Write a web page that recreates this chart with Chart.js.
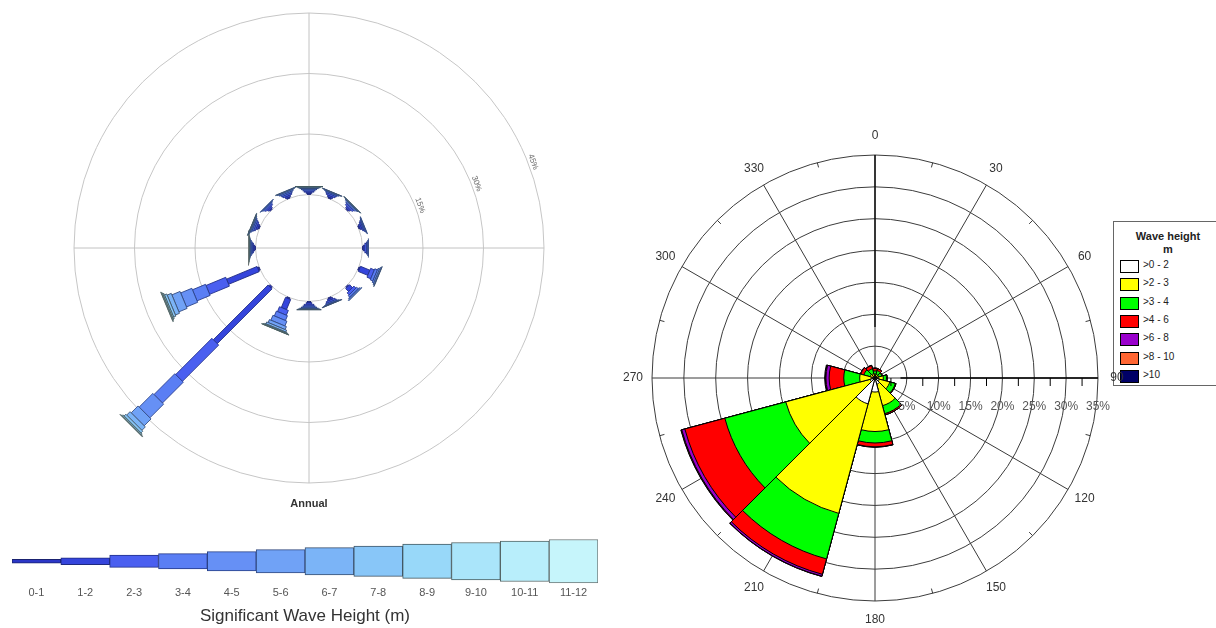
<!DOCTYPE html>
<html>
<head>
<meta charset="utf-8">
<script src="https://cdn.jsdelivr.net/npm/chart.js@4.4.1/dist/chart.umd.min.js"></script>
<style>
    html, body { margin:0; padding:0; width:1216px; height:628px; overflow:hidden; background:#fff; font-family:Arial, "Liberation Sans", sans-serif; }
    canvas { position:absolute; }
    #rosaEsq { left:9px; top:0px; }
    #barraClasses { left:0px; top:532px; }
    #rosaDir { left:615px; top:118px; z-index:2; }
    #legenda { position:absolute; left:1113px; top:221px; width:108px; height:163px; border:1px solid #666; background:#fff; color:#222; font-size:10px; z-index:1; }
    #legenda .tit { position:absolute; left:0; width:100%; text-align:center; font-weight:bold; font-size:11px; }
    #legenda .cx { position:absolute; left:6px; width:17px; height:11px; border:1px solid #000; }
    #legenda .txt { position:absolute; left:29px; }
</style>
</head>
<body>
<canvas id="rosaEsq" width="600" height="530"></canvas>
<canvas id="barraClasses" width="610" height="96"></canvas>
<div id="legenda"></div>
<canvas id="rosaDir" width="520" height="520"></canvas>

<script>
// ---------- rosa da esquerda (anual, altura significativa) ----------
const direcoesEsq = ['N','NNE','NE','ENE','E','ESE','SE','SSE','S','SSW','SW','WSW','W','WNW','NW','NNW']
const classesOnda = ['0-1','1-2','2-3','3-4','4-5','5-6','6-7','7-8','8-9','9-10','10-11','11-12']
const ticksEsq = [0, 15, 30, 45]

// % por classe de altura, uma lista por direcao
const hsN   = [0.3, 0.3, 0.3, 0.3, 0.25, 0.2, 0.15, 0.15, 0.05, 0, 0, 0]
const hsNNE = [0.3, 0.4, 0.4, 0.3, 0.2, 0.1, 0.05, 0, 0, 0, 0, 0]
const hsNE  = [0.3, 0.4, 0.4, 0.3, 0.25, 0.15, 0.1, 0.05, 0, 0, 0, 0]
const hsENE = [0.3, 0.4, 0.3, 0.25, 0.15, 0.1, 0, 0, 0, 0, 0, 0]
const hsE   = [0.2, 0.4, 0.4, 0.3, 0.15, 0.05, 0, 0, 0, 0, 0, 0]
const hsESE = [0.3, 2.5, 1.0, 0.7, 0.4, 0.3, 0.1, 0, 0, 0, 0, 0]
const hsSE  = [0.3, 1.0, 0.7, 0.5, 0.3, 0.2, 0, 0, 0, 0, 0, 0]
const hsSSE = [0.3, 0.4, 0.4, 0.3, 0.15, 0.1, 0.05, 0, 0, 0, 0, 0]
const hsS   = [0.3, 0.4, 0.4, 0.3, 0.25, 0.2, 0.15, 0.1, 0, 0, 0, 0]
const hsSSW = [0.3, 2.7, 1.3, 1.3, 1.3, 0.8, 0.5, 0.2, 0.15, 0.05, 0, 0]
const hsSW  = [0.4, 19.2, 12.7, 7.3, 4.8, 2.4, 1.2, 0.6, 0.3, 0.1, 0.05, 0]
const hsWSW = [0.4, 8.2, 5.3, 3.5, 3.0, 2.2, 1.1, 0.6, 0.3, 0.2, 0.1, 0]
const hsW   = [0.2, 0.3, 0.3, 0.25, 0.2, 0.15, 0.1, 0.08, 0.06, 0.05, 0.03, 0.03]
const hsWNW = [0.3, 0.4, 0.4, 0.35, 0.25, 0.2, 0.1, 0.05, 0, 0, 0, 0]
const hsNW  = [0.3, 0.4, 0.35, 0.3, 0.15, 0.1, 0, 0, 0, 0, 0, 0]
const hsNNW = [0.3, 0.4, 0.4, 0.35, 0.3, 0.15, 0.1, 0, 0, 0, 0, 0]

// ---------- rosa da direita ----------
const direcoesDir = ['0','30','60','90','120','150','180','210','240','270','300','330']
const classesDir = ['>0 - 2','>2 - 3','>3 - 4','>4 - 6','>6 - 8','>8 - 10','>10']
const ticksDir = [5, 10, 15, 20, 25, 30, 35]

const hs0a2    = [0.3, 0.3, 0.3, 0.5, 0.7, 1.0, 2.2, 4.2, 0.8, 0.5, 0.3, 0.3]
const hs2a3    = [0.3, 0.3, 0.3, 0.8, 1.7, 3.5, 6.2, 17.8, 13.7, 1.9, 0.5, 0.4]
const hs3a4    = [0.5, 0.6, 0.5, 0.5, 0.9, 1.3, 1.8, 7.4, 9.9, 2.5, 1.0, 0.8]
const hs4a6    = [0.4, 0.3, 0.1, 0.1, 0.1, 0.2, 0.6, 2.5, 6.5, 2.3, 0.5, 0.5]
const hs6a8    = [0.05, 0, 0, 0, 0, 0, 0.05, 0.3, 0.5, 0.5, 0.05, 0.05]
const hs8a10   = [0, 0, 0, 0, 0, 0, 0, 0.05, 0.1, 0.1, 0, 0]
const hsAcima10 = [0, 0, 0, 0, 0, 0, 0, 0, 0.05, 0.1, 0, 0]

// estilos
const corClasse = ['#2b36c6','#3545dc','#4a5ff0','#5a7ef4','#6690f5','#70a2f6','#7bb4f7','#88c6f8','#98d8f9','#aae5fa','#b8eefb','#c6f5fb']
const bordaClasse = ['#1a2270','#1e2a80','#22308a','#263a8a','#2a4288','#334a80','#3a5070','#405668','#445a60','#4a5e60','#556666','#6a7474']
const larguraClasse = [4, 7, 12, 15, 19, 23, 27, 30, 34, 37, 40, 43]
const escalaRosa = 0.8
const corDir = ['#ffffff','#ffff00','#00ff00','#ff0000','#9900cc','#ff6633','#000066']


/**
 * @description: desenha as barras em "trompete" de cada direcao usando a escala radial
 */
const barrasEsq = {
    id: 'barrasEsq',
    afterDatasetsDraw(chart){
        const s = chart.scales.r
        const ctx = chart.ctx
        const porDirecao = [hsN,hsNNE,hsNE,hsENE,hsE,hsESE,hsSE,hsSSE,hsS,hsSSW,hsSW,hsWSW,hsW,hsWNW,hsNW,hsNNW]

        porDirecao.forEach((valores, i) => {
            let acum = 0
            ctx.save()
            ctx.translate(s.xCenter, s.yCenter)
            ctx.rotate(s.getIndexAngle(i))
            valores.forEach((v, k) => {
                if(!v) return
                const r0 = s.getDistanceFromCenterForValue(acum)
                acum += v
                const r1 = s.getDistanceFromCenterForValue(acum)
                const w = larguraClasse[k] * escalaRosa
                ctx.fillStyle = corClasse[k]
                ctx.fillRect(-w / 2, -r1, w, r1 - r0)
                ctx.lineWidth = 0.8
                ctx.strokeStyle = bordaClasse[k]
                ctx.strokeRect(-w / 2, -r1, w, r1 - r0)
            })
            ctx.restore()
        })

        // rotulos dos aneis, inclinados
        const ang = 69 * Math.PI / 180
        ctx.save()
        ctx.fillStyle = '#666'
        ctx.font = '8px Arial'
        ctx.textAlign = 'center'
        ctx.textBaseline = 'bottom'
        ticksEsq.slice(1).forEach(t => {
            const r = s.getDistanceFromCenterForValue(t) + 1
            ctx.save()
            ctx.translate(s.xCenter + Math.sin(ang) * r, s.yCenter - Math.cos(ang) * r)
            ctx.rotate(ang)
            ctx.fillText(t + '%', 0, 0)
            ctx.restore()
        })
        ctx.fillStyle = '#333'
        ctx.font = 'bold 11px Arial'
        ctx.textBaseline = 'middle'
        ctx.fillText('Annual', s.xCenter, s.yCenter + s.drawingArea + 21)
        ctx.restore()
    }
}

function gerarRosaEsquerda(){
    new Chart(document.getElementById('rosaEsq'), {
        type: 'radar',
        data: { labels: direcoesEsq, datasets: [] },
        options: {
            responsive: false,
            animation: false,
            layout: { padding: { left: 65, right: 65, top: 13, bottom: 47 } },
            plugins: { legend: { display: false }, tooltip: { enabled: false } },
            scales: {
                r: {
                    min: -13.25,
                    max: 45,
                    startAngle: 0,
                    afterBuildTicks: (sc) => { sc.ticks = ticksEsq.map(v => ({ value: v })) },
                    ticks: { display: false },
                    pointLabels: { display: false },
                    grid: { circular: true, color: '#c6c6c6', lineWidth: 1 },
                    angleLines: {
                        color: (c) => c.index % 4 === 0 ? '#c2c2c2' : 'rgba(0,0,0,0)',
                        lineWidth: 1
                    }
                }
            }
        },
        plugins: [barrasEsq]
    })
}

/**
 * @description: barra de legenda das classes de altura
 */
function gerarBarraClasses(){
    new Chart(document.getElementById('barraClasses'), {
        type: 'bar',
        data: {
            labels: classesOnda,
            datasets: [{
                data: larguraClasse.map(w => [-w / 2, w / 2]),
                backgroundColor: corClasse,
                borderColor: bordaClasse,
                borderWidth: 1,
                borderSkipped: false,
                barPercentage: 1,
                categoryPercentage: 1
            }]
        },
        options: {
            responsive: false,
            animation: false,
            layout: { padding: { left: 12, right: 12, top: 7, bottom: 0 } },
            plugins: { legend: { display: false }, tooltip: { enabled: false } },
            scales: {
                x: {
                    grid: { display: false, drawTicks: false },
                    border: { display: false },
                    ticks: { color: '#555', font: { size: 11 }, padding: 3 },
                    title: { display: true, text: 'Significant Wave Height (m)', color: '#333', font: { size: 17 }, padding: { top: 4, bottom: 1 } }
                },
                y: { display: false, min: -22, max: 22 }
            }
        }
    })
}

/**
 * @description: eixos, marcas e rotulos da rosa da direita
 */
const eixosDir = {
    id: 'eixosDir',
    beforeDatasetsDraw(chart){
        const s = chart.scales.r
        const ctx = chart.ctx
        const meio = Math.PI / direcoesDir.length
        const rMax = s.getDistanceFromCenterForValue(s.max)
        ctx.save()
        direcoesDir.forEach((d, i) => {
            const a = s.getIndexAngle(i) + meio - Math.PI / 2
            ctx.beginPath()
            ctx.lineWidth = 1
            ctx.strokeStyle = '#3a3a3a'
            ctx.moveTo(s.xCenter, s.yCenter)
            ctx.lineTo(s.xCenter + Math.cos(a) * rMax, s.yCenter + Math.sin(a) * rMax)
            ctx.stroke()
            // marca curta no meio de cada setor, no anel externo
            const b = a + meio
            ctx.beginPath()
            ctx.moveTo(s.xCenter + Math.cos(b) * (rMax - 5), s.yCenter + Math.sin(b) * (rMax - 5))
            ctx.lineTo(s.xCenter + Math.cos(b) * rMax, s.yCenter + Math.sin(b) * rMax)
            ctx.stroke()
        })
        ctx.restore()
    },
    afterDatasetsDraw(chart){
        const s = chart.scales.r
        const ctx = chart.ctx
        const rMax = s.getDistanceFromCenterForValue(s.max)
        ctx.save()
        // eixos principais
        ctx.strokeStyle = '#000'
        ctx.lineWidth = 1.3
        ctx.beginPath()
        ctx.moveTo(s.xCenter, s.yCenter - rMax)
        ctx.lineTo(s.xCenter, s.yCenter - s.getDistanceFromCenterForValue(8))
        ctx.moveTo(s.xCenter + s.getDistanceFromCenterForValue(4), s.yCenter)
        ctx.lineTo(s.xCenter + rMax, s.yCenter)
        ctx.stroke()
        // marcas no eixo horizontal
        ctx.lineWidth = 1
        for(let v = 2.5; v < s.max; v += 5){
            const x = s.xCenter + s.getDistanceFromCenterForValue(v)
            ctx.beginPath()
            ctx.moveTo(x, s.yCenter)
            ctx.lineTo(x, s.yCenter + 8)
            ctx.stroke()
        }
        // rotulos de %
        ctx.fillStyle = '#555'
        ctx.font = '12px Arial'
        ctx.textAlign = 'center'
        ctx.textBaseline = 'middle'
        ticksDir.forEach(t => {
            ctx.fillText(t + '%', s.xCenter + s.getDistanceFromCenterForValue(t), s.yCenter + 29)
        })
        ctx.restore()
    },
    afterDraw(chart){
        const s = chart.scales.r
        const ctx = chart.ctx
        const meio = Math.PI / direcoesDir.length
        const r = s.getDistanceFromCenterForValue(s.max) + 19
        ctx.save()
        ctx.fillStyle = '#333'
        ctx.font = '12px Arial'
        ctx.textAlign = 'center'
        ctx.textBaseline = 'middle'
        direcoesDir.forEach((d, i) => {
            const a = s.getIndexAngle(i) + meio - Math.PI / 2
            ctx.fillText(d, s.xCenter + Math.cos(a) * r, s.yCenter + Math.sin(a) * r)
        })
        ctx.restore()
    }
}

function gerarRosaDireita(){
    const series = [hs0a2, hs2a3, hs3a4, hs4a6, hs6a8, hs8a10, hsAcima10]
    // empilha: cada serie comeca onde termina a anterior
    const acum = direcoesDir.map(() => 0)
    const datasets = series.map((serie, k) => {
        const valores = serie.map((v, i) => { acum[i] += v; return +acum[i].toFixed(2) })
        return {
            label: classesDir[k],
            data: valores,
            backgroundColor: corDir[k],
            borderColor: '#000',
            borderWidth: 1
        }
    })

    new Chart(document.getElementById('rosaDir'), {
        type: 'polarArea',
        data: { labels: direcoesDir, datasets: datasets },
        options: {
            responsive: false,
            animation: false,
            layout: { padding: 37 },
            plugins: { legend: { display: false }, tooltip: { enabled: false } },
            scales: {
                r: {
                    min: 0,
                    max: 35,
                    startAngle: -180 / direcoesDir.length,
                    ticks: { display: false, stepSize: 5 },
                    grid: { circular: true, color: '#3c3c3c', lineWidth: 1 },
                    angleLines: { display: false },
                    pointLabels: { display: false }
                }
            }
        },
        plugins: [eixosDir]
    })

    // legenda
    const leg = document.getElementById('legenda')
    let html = '<div class="tit" style="top:8px">Wave height</div><div class="tit" style="top:21px">m</div>'
    classesDir.forEach((c, k) => {
        const y = 38 + k * 18.3
        html += '<div class="cx" style="top:' + y + 'px;background:' + corDir[k] + '"></div>'
        html += '<div class="txt" style="top:' + (y - 1) + 'px">' + c.replace('>', '&gt;') + '</div>'
    })
    leg.innerHTML = html
}

function configsInicio(){
    gerarRosaEsquerda()
    gerarBarraClasses()
    gerarRosaDireita()
}

configsInicio()
</script>
</body>
</html>
